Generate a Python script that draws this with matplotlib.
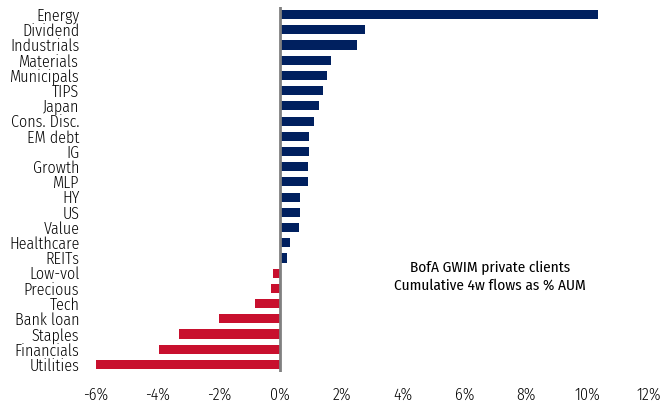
import matplotlib
matplotlib.use('Agg')
import matplotlib.pyplot as plt
from matplotlib import font_manager

# --- DATA (cumulative 4w flows, % AUM) ---
categories = ['Energy', 'Dividend', 'Industrials', 'Materials', 'Municipals', 'TIPS',
              'Japan', 'Cons. Disc.', 'EM debt', 'IG', 'Growth', 'MLP', 'HY', 'US',
              'Value', 'Healthcare', 'REITs', 'Low-vol', 'Precious', 'Tech',
              'Bank loan', 'Staples', 'Financials', 'Utilities']
flows = [10.33, 2.75, 2.48, 1.66, 1.53, 1.39, 1.25, 1.10, 0.93, 0.93, 0.91, 0.89,
         0.64, 0.63, 0.62, 0.30, 0.22, -0.25, -0.30, -0.84, -2.01, -3.30, -3.94, -6.0]
xticks = [-6, -4, -2, 0, 2, 4, 6, 8, 10, 12]
xtick_labels = [f'{t}%' for t in xticks]

navy = '#00205F'
red = '#C8102E'

# condensed face if one is around, else plain DejaVu
installed = {f.name for f in font_manager.fontManager.ttflist}
prefs = ['Fira Sans Condensed', 'PT Sans Narrow', 'Roboto Condensed', 'Open Sans Condensed',
         'Archivo Narrow', 'Liberation Sans Narrow', 'Asap Condensed']
cond = [p for p in prefs if p in installed]
if cond:
    plt.rcParams['font.family'] = [cond[0], 'DejaVu Sans']
    fs = 11.5
else:
    plt.rcParams['font.family'] = ['DejaVu Sans']
    fs = 9.5

fig = plt.figure(figsize=(6.64, 4.04), dpi=100)
ax = fig.add_axes([96 / 664, 1 - 372 / 404, (649 - 96) / 664, 365 / 404])

ypos = list(range(len(categories)))[::-1]
colors = [navy if v >= 0 else red for v in flows]
ax.barh(ypos, flows, height=0.6, color=colors, edgecolor='none', zorder=2)
ax.axvline(0, color='#808080', lw=2, zorder=3)

ax.set_xlim(-6, 12)
ax.set_ylim(-0.5, len(categories) - 0.5)
ax.set_yticks(ypos)
ax.set_yticklabels(categories, fontsize=fs, color='black', fontweight=300)
ax.set_xticks(xticks)
ax.set_xticklabels(xtick_labels, fontsize=fs, color='black', fontweight=300)
ax.tick_params(axis='y', length=0, pad=12)
ax.tick_params(axis='x', length=0, pad=11)
for s in ax.spines.values():
    s.set_visible(False)

ax.text(0.712, 0.26, 'BofA GWIM private clients\nCumulative 4w flows as % AUM',
        transform=ax.transAxes, ha='center', va='center', fontsize=fs - 0.5,
        linespacing=1.3, fontweight='normal', color='black')

fig.savefig('out.png', dpi=100)
